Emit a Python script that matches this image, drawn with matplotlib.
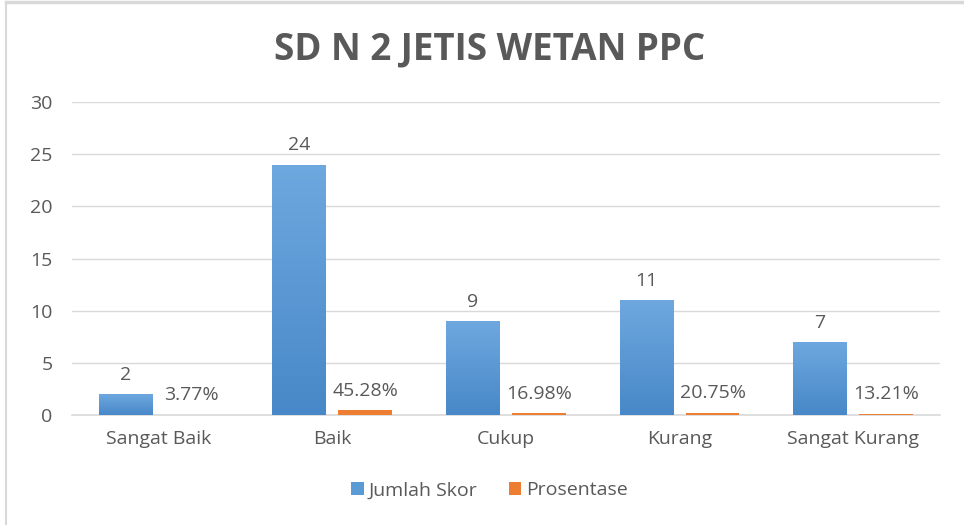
import matplotlib
matplotlib.use("Agg")
import matplotlib.pyplot as plt
import numpy as np
from matplotlib.lines import Line2D
from matplotlib.colors import LinearSegmentedColormap

categories = ["Sangat Baik", "Baik", "Cukup", "Kurang", "Sangat Kurang"]
jumlah_skor = [2, 24, 9, 11, 7]
prosentase = [0.0377, 0.4528, 0.1698, 0.2075, 0.1321]
y_ticks = [0, 5, 10, 15, 20, 25, 30]

plt.rcParams['font.family'] = ['Open Sans', 'DejaVu Sans']
text_color = "#595959"
blue = "#5B9BD5"
orange = "#ED7D31"
fs = 14

fig = plt.figure(figsize=(9.64, 5.25), dpi=100)
fig.patch.set_facecolor("white")
# light frame on top and left
fig.add_artist(Line2D([0.006, 1.0], [0.996, 0.996], transform=fig.transFigure, color="#D9D9D9", lw=2.5))
fig.add_artist(Line2D([0.006, 0.006], [0.0, 0.996], transform=fig.transFigure, color="#D9D9D9", lw=1.5))

ax = fig.add_axes([0.0747, 0.2095, 0.9003, 0.5962])
x = np.arange(len(categories))
w = 0.31
off = 0.19
b1 = ax.bar(x - off, jumlah_skor, w, color=blue, label="Jumlah Skor", zorder=3)
b2 = ax.bar(x + off, prosentase, w, color=orange, label="Prosentase", zorder=3)

# vertical gradient on blue bars
cmap = LinearSegmentedColormap.from_list("g", ["#4888C8", "#6EA8DF"])
grad = np.linspace(0, 1, 256).reshape(-1, 1)
for rect in b1:
    x0, y0 = rect.get_x(), rect.get_y()
    ww, hh = rect.get_width(), rect.get_height()
    im = ax.imshow(grad, cmap=cmap, origin="lower", aspect="auto",
                   extent=(x0, x0 + ww, y0, y0 + hh), zorder=3.5)
    im.set_clip_path(rect)

for xi, v in zip(x, jumlah_skor):
    ax.text(xi - off, v + 1.0, f"{v}", ha="center", va="bottom", fontsize=fs, color=text_color)
for xi, v in zip(x, prosentase):
    ax.text(xi + off, v + 1.0, f"{v*100:.2f}%", ha="center", va="bottom", fontsize=fs, color=text_color)

ax.set_xlim(-0.5, len(categories) - 0.5)
ax.set_ylim(0, 30)
ax.set_yticks(y_ticks)
ax.set_xticks(x)
ax.set_xticklabels(categories)
ax.tick_params(axis="both", length=0, labelsize=fs, labelcolor=text_color)
ax.tick_params(axis="y", pad=14)
ax.tick_params(axis="x", pad=11)
ax.grid(axis="y", color="#D9D9D9", linewidth=1, zorder=0)
for s in ["top", "right", "left"]:
    ax.spines[s].set_visible(False)
ax.spines["bottom"].set_color("#D9D9D9")
ax.spines["bottom"].set_linewidth(1.2)

fig.text(0.508, 0.905, "SD N 2 JETIS WETAN PPC", ha="center", va="center",
         fontsize=26.5, fontweight="bold", color=text_color)

fig.legend(handles=[b1, b2], loc="center", bbox_to_anchor=(0.508, 0.066), ncol=2,
           frameon=False, fontsize=fs, labelcolor=text_color, handlelength=0.65,
           handleheight=0.65, handletextpad=0.25, columnspacing=1.6)

fig.savefig("out.png", dpi=100, facecolor="white")
